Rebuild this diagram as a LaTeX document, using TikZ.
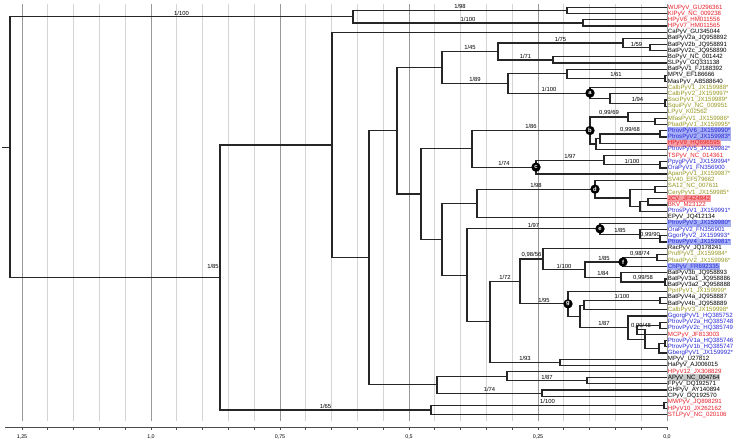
\documentclass[tikz,border=0pt]{standalone}
\usepackage{fontspec}
\setmainfont{Liberation Sans}
\usetikzlibrary{calc}
\definecolor{virred}{RGB}{230,30,40}
\definecolor{virblue}{RGB}{40,40,215}
\definecolor{virolive}{RGB}{150,150,30}
\definecolor{hlblue}{RGB}{165,175,245}
\definecolor{hlred}{RGB}{245,160,165}
\definecolor{hlgray}{RGB}{200,200,200}
\definecolor{gridgray}{RGB}{212,212,212}
% internal node: name, x, first child, last child
\newcommand{\clade}[4]{\path ($(#3)!.5!(#4)$) coordinate (tmp); \coordinate (#1) at (tmp -| #2,0);}

\begin{document}
\begin{tikzpicture}[x=0.75pt, y=-0.75pt,
        leaf/.style={anchor=west, inner sep=0.5pt, font=\fontsize{4.6}{5}\selectfont},
        plain/.style={text=black},
        hred/.style={text=virred},
        hblue/.style={text=virblue},
        holive/.style={text=virolive},
        bred/.style={text=virred, fill=hlred},
        bblue/.style={text=virblue, fill=hlblue},
        bgray/.style={text=black, fill=hlgray},
        br/.style={draw=black!85, line width=0.9pt},
        sup/.style={pos=.75, above, inner sep=0.7pt, font=\fontsize{4.4}{5}\selectfont},
        cladedot/.style={circle, fill=black, text=white, inner sep=0pt, minimum size=7pt, font=\fontsize{4.4}{5}\selectfont\bfseries},
        axlbl/.style={font=\fontsize{4}{5}\selectfont, inner sep=0.5pt}]
    \useasboundingbox (0,0) rectangle (740,442);

    % grid and axis
    \foreach \k in {0,...,25}
        \draw[gridgray, line width=0.6pt] ({667-25.8*\k},4) -- ({667-25.8*\k},421);
    \foreach \k in {0,5,...,25}
        \draw[black!40, line width=0.6pt] ({667-25.8*\k},4) -- ({667-25.8*\k},421);
    \coordinate (axl) at (5,427);
    \coordinate (axr) at (667,427);
    \draw[black!70, line width=0.6pt] (axl) -- (axr);
    \foreach \k in {0,...,25}
        \draw[black!70, line width=0.5pt] ({667-25.8*\k},427) -- ++(0,2.5);
    \foreach \k/\t in {0/{0,0},5/{0,25},10/{0,5},15/{0,75},20/{1,0},25/{1,25}}
        \node[axlbl] (ax\k) at ({667-25.8*\k},437) {\t};

    % leaves
    \foreach \nm/\txt/\sty [count=\i] in {
        WU/WUPyV\_GU296361/hred, KI/KIPyV\_NC\_009238/hred,
        H6/HPyV6\_HM011556/hred, H7/HPyV7\_HM011565/hred,
        Ca/CaPyV\_GU345044/plain, B2a/BatPyV2a\_JQ958892/plain,
        B2b/BatPyV2b\_JQ958891/plain, B2c/BatPyV2c\_JQ958890/plain,
        Bo/BoPyV\_NC\_001442/plain, SL/SLPyV\_GQ331138/plain,
        B1/BatPyV1\_FJ188392/plain, MPt/MPtV\_EF186666/plain,
        Mas/MasPyV\_AB588640/plain, Calb1/CalbPyV1\_JX159988*/holive,
        Calb2/CalbPyV2\_JX159997*/holive, Ssci/SsciPyV1\_JX159989*/holive,
        Squi/SquiPyV\_NC\_009951/holive, LPy/LPyV\_K02562/holive,
        Mfas/MfasPyV1\_JX159986*/holive, Pbad1/PbadPyV1\_JX159995*/holive,
        Ptrov6/PtrovPyV6\_JX159990*/bblue, Ptros2/PtrosPyV2\_JX159983*/bblue,
        H9/HPyV9\_HQ696595/bred, Ptrov5/PtrovPyV5\_JX159982*/hblue,
        TS/TSPyV\_NC\_014361/hred, Ppyg/PpygPyV1\_JX159994*/hblue,
        Ora1/OraPyV1\_FN356900/hblue, Apan/ApanPyV1\_JX159987*/holive,
        SV/SV40\_EF579662/holive, SA/SA12\_NC\_007611/holive,
        Cery/CeryPyV1\_JX159985*/holive, JC/JCV\_JF424942/bred,
        BK/BKV\_M23122/hred, Ptros1/PtrosPyV1\_JX159991*/hblue,
        EPy/EPyV\_JQ412134/plain, Ptrov3/PtrovPyV3\_JX159980*/bblue,
        Ora2/OraPyV2\_FN356901/hblue, Ggor2/GgorPyV2\_JX159993*/hblue,
        Ptrov4/PtrovPyV4\_JX159981*/bblue, Rac/RacPyV\_JQ178241/plain,
        Pruf/PrufPyV1\_JX159984*/holive, Pbad2/PbadPyV2\_JX159996*/holive,
        Ch/ChPyV\_FR692335/bblue, B3b/BatPyV3b\_JQ958893/plain,
        B3a1/BatPyV3a1\_JQ958886/plain, B3a2/BatPyV3a2\_JQ958888/plain,
        Ppit/PpitPyV1\_JX159999*/holive, B4a/BatPyV4a\_JQ958887/plain,
        B4b/BatPyV4b\_JQ958889/plain, Calb3/CalbPyV3\_JX159998*/holive,
        Ggorg/GgorgPyV1\_HQ385752/hblue, Ptrov2a/PtrovPyV2a\_HQ385748/hblue,
        Ptrov2c/PtrovPyV2c\_HQ385749/hblue, MC/MCPyV\_JF813003/hred,
        Ptrov1a/PtrovPyV1a\_HQ385746/hblue, Ptrov1b/PtrovPyV1b\_HQ385747/hblue,
        Gberg/GbergPyV1\_JX159992*/hblue, MPy/MPyV\_U27812/plain,
        HaPy/HaPyV\_AJ006015/plain, H12/HPyV12\_JX308829/hred,
        APy/APyV\_NC\_004764/bgray, FPy/FPyV\_DQ192571/plain,
        GHPy/GHPyV\_AY140894/plain, CPy/CPyV\_DQ192570/plain,
        MW/MWPyV\_JQ898291/hred, H10/HPyV10\_JX262162/hred,
        STL/STLPyV\_NC\_020106/hred}
        \node[leaf, \sty] (\nm) at (667,{7.5+(\i-1)*6.17}) {\txt};

    % internal nodes
    \clade{nWK}{567}{WU}{KI}
    \clade{nH67}{583}{H6}{H7}
    \clade{nA}{353}{nWK}{nH67}
    \clade{nB2bc}{650}{B2b}{B2c}
    \clade{nB2}{623}{B2a}{nB2bc}
    \clade{nBS}{553}{Bo}{SL}
    \clade{nBat}{498}{nB2}{nBS}
    \clade{nMM}{665}{MPt}{Mas}
    \clade{nBM}{567}{B1}{nMM}
    \clade{nSq}{665}{Ssci}{Squi}
    \clade{nCS}{610}{Calb2}{nSq}
    \clade{na}{590}{Calb1}{nCS}
    \clade{nMas}{508}{nBM}{na}
    \clade{nN5}{442}{nBat}{nMas}
    \clade{nMP}{655}{Mfas}{Pbad1}
    \clade{nL}{628}{LPy}{nMP}
    \clade{nPt}{660}{Ptrov6}{Ptros2}
    \clade{nPH}{600}{nPt}{H9}
    \clade{nP5}{596}{nPH}{Ptrov5}
    \clade{nb}{590}{nL}{nP5}
    \clade{nPO}{660}{Ppyg}{Ora1}
    \clade{nT}{604}{TS}{nPO}
    \clade{nc}{536}{nT}{Apan}
    \clade{nN10}{472}{nb}{nc}
    \clade{nSC}{655}{SA}{Cery}
    \clade{nJB}{648}{JC}{BK}
    \clade{nJBP}{640}{nJB}{Ptros1}
    \clade{nE}{630}{nSC}{nJBP}
    \clade{nd}{595}{SV}{nE}
    \clade{nN12}{477}{nd}{EPy}
    \clade{nGP}{660}{Ggor2}{Ptrov4}
    \clade{nOG}{640}{Ora2}{nGP}
    \clade{ne}{600}{Ptrov3}{nOG}
    \clade{nPP}{657}{Pruf}{Pbad2}
    \clade{nf}{623}{nPP}{Ch}
    \clade{nB3a}{665}{B3a1}{B3a2}
    \clade{nB3}{621}{B3b}{nB3a}
    \clade{nN17}{585}{nf}{nB3}
    \clade{nN16}{543}{Rac}{nN17}
    \clade{nB4}{660}{B4a}{B4b}
    \clade{nY}{584}{nB4}{Calb3}
    \clade{nP2}{660}{Ptrov2a}{Ptrov2c}
    \clade{nW}{637}{nP2}{MC}
    \clade{nP1}{665}{Ptrov1a}{Ptrov1b}
    \clade{nP1G}{659}{nP1}{Gberg}
    \clade{nZ}{645}{nW}{nP1G}
    \clade{nMC}{628}{Ggorg}{nZ}
    \clade{nX}{580}{nY}{nMC}
    \clade{ng}{568}{Ppit}{nX}
    \clade{nN15}{520}{nN16}{ng}
    \clade{nMH}{560}{MPy}{HaPy}
    \clade{nN14}{490}{nN15}{nMH}
    \clade{nN13}{467}{ne}{nN14}
    \clade{nN11}{442}{nN12}{nN13}
    \clade{nN6}{421}{nN10}{nN11}
    \clade{nN4}{397}{nN5}{nN6}
    \clade{nAF}{587}{APy}{FPy}
    \clade{nHA}{507}{H12}{nAF}
    \clade{nGC}{542}{GHPy}{CPy}
    \clade{nX2}{437}{nHA}{nGC}
    \clade{nN3}{369}{nN4}{nX2}
    \clade{nN1}{332}{Ca}{nN3}
    \clade{nMW}{664}{MW}{H10}
    \clade{nS}{431}{nMW}{STL}
    \clade{nR2}{220}{nN1}{nS}
    \clade{root}{10}{nA}{nR2}
    \coordinate (stub) at (root -| 2,0);

    % branches
    \draw[br] (stub) -- (root);
    \draw[br] (root) |- node[sup]{1/100} (nA) (root) |- (nR2);
    \node[font=\fontsize{4.4}{5}\selectfont, inner sep=0.7pt] (lbr2) at (213,266) {1/85};
    \draw[br] (nA) |- node[sup]{1/98} (nWK) (nA) |- node[sup]{1/100} (nH67);
    \draw[br] (nWK) |- (WU) (nWK) |- (KI) (nH67) |- (H6) (nH67) |- (H7);
    \draw[br] (nR2) |- (nN1) (nR2) |- node[sup]{1/65} (nS);
    \draw[br] (nS) |- node[sup]{1/100} (nMW) (nS) |- (STL) (nMW) |- (MW) (nMW) |- (H10);
    \draw[br] (nN1) |- (Ca) (nN1) |- (nN3);
    \draw[br] (nN3) |- (nN4) (nN3) |- (nX2);
    \draw[br] (nN4) |- (nN5) (nN4) |- (nN6);
    \draw[br] (nN5) |- node[sup]{1/45} (nBat) (nN5) |- node[sup]{1/89} (nMas);
    \draw[br] (nBat) |- node[sup]{1/75} (nB2) (nBat) |- node[sup]{1/71} (nBS);
    \draw[br] (nB2) |- (B2a) (nB2) |- node[sup]{1/59} (nB2bc) (nB2bc) |- (B2b) (nB2bc) |- (B2c);
    \draw[br] (nBS) |- (Bo) (nBS) |- (SL);
    \draw[br] (nMas) |- (nBM) (nMas) |- node[sup]{1/100} (na);
    \draw[br] (nBM) |- (B1) (nBM) |- node[sup]{1/61} (nMM) (nMM) |- (MPt) (nMM) |- (Mas);
    \draw[br] (na) |- (Calb1) (na) |- (nCS) (nCS) |- (Calb2) (nCS) |- node[sup]{1/94} (nSq);
    \draw[br] (nSq) |- (Ssci) (nSq) |- (Squi);
    \draw[br] (nN6) |- (nN10) (nN6) |- (nN11);
    \draw[br] (nN10) |- node[sup]{1/86} (nb) (nN10) |- node[sup]{1/74} (nc);
    \draw[br] (nb) |- node[sup]{0,99/69} (nL) (nb) |- (nP5);
    \draw[br] (nL) |- (LPy) (nL) |- (nMP) (nMP) |- (Mfas) (nMP) |- (Pbad1);
    \draw[br] (nP5) |- (nPH) (nP5) |- (Ptrov5) (nPH) |- node[sup]{0,99/68} (nPt) (nPH) |- (H9);
    \draw[br] (nPt) |- (Ptrov6) (nPt) |- (Ptros2);
    \draw[br] (nc) |- node[sup]{1/97} (nT) (nc) |- (Apan) (nT) |- (TS) (nT) |- node[sup]{1/100} (nPO);
    \draw[br] (nPO) |- (Ppyg) (nPO) |- (Ora1);
    \draw[br] (nN11) |- (nN12) (nN11) |- (nN13);
    \draw[br] (nN12) |- node[sup]{1/98} (nd) (nN12) |- (EPy);
    \draw[br] (nd) |- (SV) (nd) |- (nE) (nE) |- (nSC) (nE) |- (nJBP);
    \draw[br] (nSC) |- (SA) (nSC) |- (Cery) (nJBP) |- (nJB) (nJBP) |- (Ptros1) (nJB) |- (JC) (nJB) |- (BK);
    \draw[br] (nN13) |- node[sup]{1/97} (ne) (nN13) |- (nN14);
    \draw[br] (ne) |- (Ptrov3) (ne) |- node[sup]{1/85} (nOG) (nOG) |- (Ora2) (nOG) |- node[sup]{0,99/90} (nGP);
    \draw[br] (nGP) |- (Ggor2) (nGP) |- (Ptrov4);
    \draw[br] (nN14) |- node[sup]{1/72} (nN15) (nN14) |- node[sup]{1/93} (nMH);
    \draw[br] (nMH) |- (MPy) (nMH) |- (HaPy);
    \draw[br] (nN15) |- node[sup]{0,98/56} (nN16) (nN15) |- node[sup]{1/95} (ng);
    \draw[br] (nN16) |- (Rac) (nN16) |- node[sup]{1/100} (nN17);
    \draw[br] (nN17) |- node[sup]{1/85} (nf) (nN17) |- node[sup]{1/84} (nB3);
    \draw[br] (nf) |- node[sup]{0,98/74} (nPP) (nf) |- (Ch) (nPP) |- (Pruf) (nPP) |- (Pbad2);
    \draw[br] (nB3) |- (B3b) (nB3) |- node[sup]{0,99/58} (nB3a) (nB3a) |- (B3a1) (nB3a) |- (B3a2);
    \draw[br] (ng) |- (Ppit) (ng) |- (nX);
    \draw[br] (nX) |- (nY) (nX) |- node[sup]{1/87} (nMC);
    \draw[br] (nY) |- node[sup]{1/100} (nB4) (nY) |- (Calb3) (nB4) |- (B4a) (nB4) |- (B4b);
    \draw[br] (nMC) |- (Ggorg) (nMC) |- (nZ);
    \draw[br] (nZ) |- node[sup]{0,99/48} (nW) (nZ) |- (nP1G);
    \draw[br] (nW) |- (nP2) (nW) |- (MC) (nP2) |- (Ptrov2a) (nP2) |- (Ptrov2c);
    \draw[br] (nP1G) |- (nP1) (nP1G) |- (Gberg) (nP1) |- (Ptrov1a) (nP1) |- (Ptrov1b);
    \draw[br] (nX2) |- (nHA) (nX2) |- node[sup]{1/74} (nGC);
    \draw[br] (nHA) |- (H12) (nHA) |- node[sup]{1/87} (nAF) (nAF) |- (APy) (nAF) |- (FPy);
    \draw[br] (nGC) |- (GHPy) (nGC) |- (CPy);

    % marked clades
    \node[cladedot] (dota) at (na) {a};
    \node[cladedot] (dotb) at (nb) {b};
    \node[cladedot] (dotc) at (nc) {c};
    \node[cladedot] (dotd) at (nd) {d};
    \node[cladedot] (dote) at (ne) {e};
    \node[cladedot] (dotf) at (nf) {f};
    \node[cladedot] (dotg) at (ng) {g};
\end{tikzpicture}
\end{document}
